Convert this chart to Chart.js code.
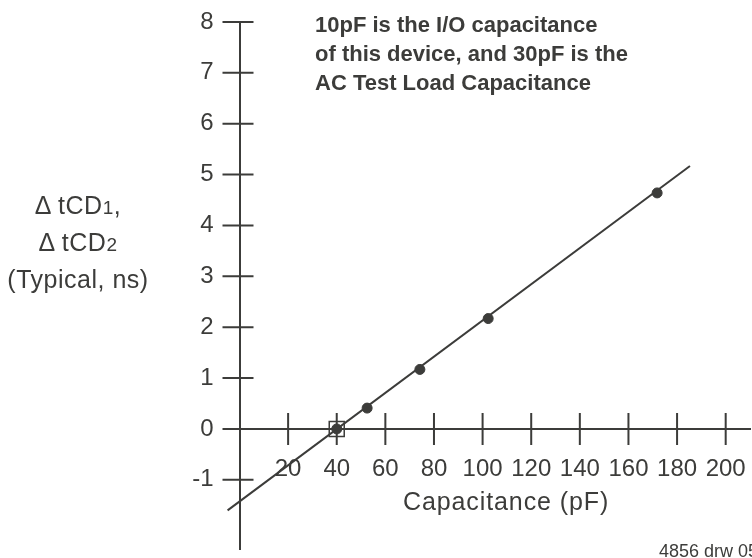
<!DOCTYPE html>
<html>
<head>
<meta charset="utf-8">
<script src="https://cdn.jsdelivr.net/npm/chart.js@4.4.1/dist/chart.umd.min.js"></script>
<style>
  body { margin: 0; background: #fff; }
  #wrap {
    position: relative; width: 752px; height: 558px; overflow: hidden;
    font-family: "Liberation Sans", Arial, sans-serif; color: #3c3c3a;
  }
  #chart { position: absolute; left: 0; top: 0; }
  .note { position: absolute; left: 315px; top: 10px; font-weight: bold; font-size: 22px; line-height: 29px; white-space: nowrap; }
  .ylab { position: absolute; left: 0; width: 156px; top: 188px; text-align: center; font-size: 25px; letter-spacing: 0.5px; line-height: 34px; }
  .ylab span { font-size: 19px; }
  .xlab { position: absolute; left: 403px; top: 487px; font-size: 25px; letter-spacing: 0.9px; white-space: nowrap; }
  .drw { position: absolute; left: 659px; top: 541px; font-size: 18px; white-space: nowrap; }
</style>
</head>
<body>
<div id="wrap">
  <canvas id="chart"></canvas>
  <div class="note">10pF is the I/O capacitance<br>of this device, and 30pF is the<br>AC Test Load Capacitance</div>
  <div class="ylab">&Delta; tCD<span>1</span>,<br>&Delta; tCD<span>2</span><br>(Typical, ns)</div>
  <div class="xlab">Capacitance (pF)</div>
  <div class="drw">4856 drw 05</div>
</div>
<script>
// --- Données ---
const xTicks = [20, 40, 60, 80, 100, 120, 140, 160, 180, 200];
const yTicks = [-1, 0, 1, 2, 3, 4, 5, 6, 7, 8];

// points mesurés (pF, ns)
const measuredCap = [40, 52.5, 74.2, 102.3, 171.8];
const measuredDelay = [0, 0.41, 1.17, 2.17, 4.64];

// droite de tendance (extrémités)
const fitCap = [-4.9, 185.3];
const fitDelay = [-1.6, 5.17];

// charge de test AC (carré)
const loadCap = [40];
const loadDelay = [0];

const ink = '#3c3c3a';

const toPoints = (xs, ys) => xs.map((x, i) => ({ x: x, y: ys[i] }));

// Petites marques qui traversent les axes
const crossTicks = {
    id: 'crossTicks',
    beforeDatasetsDraw(chart) {
        const { ctx, scales: { x, y } } = chart;
        const x0 = x.getPixelForValue(0);
        const y0 = y.getPixelForValue(0);
        ctx.save();
        ctx.strokeStyle = ink;
        ctx.lineWidth = 2;
        ctx.beginPath();
        yTicks.forEach(v => {
            const py = y.getPixelForValue(v);
            ctx.moveTo(x0 - 17, py);
            ctx.lineTo(x0 + 14, py);
        });
        xTicks.forEach(v => {
            const px = x.getPixelForValue(v);
            ctx.moveTo(px, y0 - 16);
            ctx.lineTo(px, y0 + 16);
        });
        ctx.stroke();
        ctx.restore();
    }
};

Chart.defaults.font.family = "'Liberation Sans', Arial, sans-serif";
Chart.defaults.color = ink;

new Chart(document.getElementById('chart'), {
    type: 'scatter',
    data: {
        datasets: [
            {
                type: 'line',
                data: toPoints(fitCap, fitDelay),
                borderColor: ink,
                borderWidth: 2,
                pointRadius: 0,
                clip: false
            },
            {
                data: toPoints(measuredCap, measuredDelay),
                backgroundColor: ink,
                borderColor: ink,
                pointRadius: 5,
                clip: false
            },
            {
                data: toPoints(loadCap, loadDelay),
                pointStyle: 'rect',
                pointRadius: 10.6,
                backgroundColor: 'rgba(0,0,0,0)',
                borderColor: ink,
                borderWidth: 1.5,
                clip: false
            }
        ]
    },
    options: {
        responsive: true,
        maintainAspectRatio: false,
        animation: false,
        layout: { autoPadding: false, padding: { left: 0, top: 22, right: 2, bottom: 9 } },
        plugins: { legend: { display: false }, tooltip: { enabled: false } },
        scales: {
            x: {
                type: 'linear',
                min: 0,
                max: 210,
                position: { y: 0 },
                afterBuildTicks: s => { s.ticks = xTicks.map(v => ({ value: v })); },
                // l'axe est posé sur y = 0 : il ne doit pas prendre de place
                afterFit: s => { s.height = 0; s.paddingLeft = 0; s.paddingRight = 0; },
                grid: { display: false, drawTicks: false },
                border: { display: true, color: ink, width: 2 },
                ticks: { font: { size: 24 }, padding: 26, maxRotation: 0, autoSkip: false }
            },
            y: {
                type: 'linear',
                min: -2.36,
                max: 8,
                position: 'left',
                afterBuildTicks: s => { s.ticks = yTicks.map(v => ({ value: v })); },
                afterFit: s => { s.width = 239.5; s.paddingTop = 0; s.paddingBottom = 0; },
                grid: { display: false, drawTicks: false },
                border: { display: true, color: ink, width: 2 },
                ticks: { font: { size: 24 }, padding: 26, autoSkip: false }
            }
        }
    },
    plugins: [crossTicks]
});
</script>
</body>
</html>
